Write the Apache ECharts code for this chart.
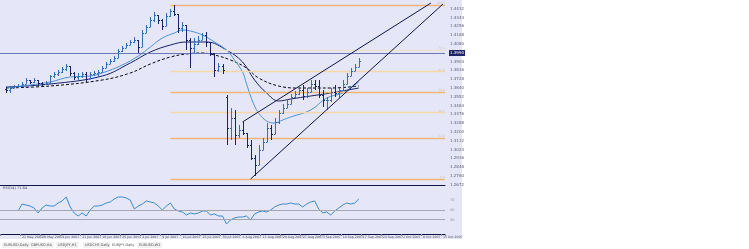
<!DOCTYPE html>
<html><head><meta charset="utf-8">
<script src="https://cdn.jsdelivr.net/npm/echarts@6/dist/echarts.min.js"></script>
<style>html,body{margin:0;padding:0;background:#fff;overflow:hidden}#c{width:749px;height:249px}</style>
</head><body><div id="c"></div>
<script>
// ---------- data ----------
const slotCount = 111;          // bar slots on the time axis (incl. empty future space)
const firstBar = 1;             // slot index of the first bar
const opens = [1.363,1.362,1.364,1.366,1.366,1.368,1.372,1.370,1.372,1.369,
 1.368,1.369,1.376,1.378,1.380,1.383,1.386,1.379,1.375,1.376,
 1.378,1.373,1.378,1.379,1.380,1.384,1.388,1.391,1.394,1.401,
 1.404,1.407,1.410,1.412,1.405,1.419,1.425,1.432,1.437,1.432,
 1.426,1.436,1.441,1.438,1.424,1.427,1.412,1.404,1.408,1.412,
 1.417,1.410,1.399,1.382,1.386,1.355,1.324,1.334,1.317,1.322,
 1.319,1.307,1.294,1.287,1.302,1.310,1.324,1.318,1.330,1.339,
 1.344,1.348,1.355,1.358,1.362,1.356,1.360,1.368,1.366,1.357,
 1.352,1.352,1.360,1.359,1.362,1.368,1.376,1.381,1.385];
const highs = [1.365,1.366,1.367,1.368,1.370,1.374,1.372,1.374,1.372,1.370,
 1.371,1.377,1.380,1.382,1.385,1.388,1.386,1.380,1.379,1.380,
 1.380,1.380,1.381,1.382,1.386,1.390,1.393,1.396,1.403,1.406,
 1.409,1.412,1.415,1.412,1.422,1.427,1.435,1.440,1.437,1.433,
 1.439,1.443,1.447,1.438,1.430,1.427,1.414,1.414,1.416,1.419,
 1.420,1.410,1.399,1.389,1.388,1.357,1.344,1.342,1.327,1.330,
 1.319,1.312,1.297,1.307,1.314,1.329,1.327,1.334,1.342,1.348,
 1.352,1.358,1.361,1.365,1.367,1.364,1.372,1.372,1.372,1.362,
 1.355,1.364,1.367,1.364,1.372,1.379,1.384,1.388,1.394];
const lows = [1.359,1.359,1.364,1.364,1.366,1.368,1.368,1.369,1.366,1.365,
 1.367,1.369,1.374,1.376,1.379,1.381,1.376,1.372,1.372,1.374,
 1.370,1.373,1.376,1.375,1.380,1.384,1.388,1.390,1.394,1.400,
 1.404,1.407,1.409,1.399,1.405,1.419,1.425,1.430,1.428,1.422,
 1.426,1.435,1.436,1.419,1.420,1.402,1.384,1.399,1.407,1.412,
 1.405,1.396,1.375,1.380,1.378,1.307,1.312,1.307,1.314,1.317,
 1.304,1.292,1.276,1.287,1.302,1.310,1.312,1.318,1.328,1.338,
 1.344,1.348,1.354,1.357,1.352,1.354,1.360,1.362,1.354,1.345,
 1.342,1.350,1.355,1.354,1.362,1.368,1.376,1.381,1.385];
const closes = [1.362,1.364,1.366,1.366,1.368,1.372,1.370,1.372,1.369,1.368,
 1.369,1.376,1.378,1.380,1.383,1.386,1.379,1.375,1.376,1.378,
 1.373,1.378,1.379,1.380,1.384,1.388,1.391,1.394,1.401,1.404,
 1.407,1.410,1.412,1.405,1.419,1.425,1.432,1.437,1.432,1.426,
 1.436,1.441,1.438,1.424,1.427,1.412,1.404,1.408,1.412,1.417,
 1.410,1.399,1.382,1.386,1.382,1.324,1.334,1.317,1.322,1.319,
 1.307,1.294,1.287,1.302,1.310,1.324,1.318,1.330,1.339,1.344,
 1.348,1.355,1.358,1.362,1.356,1.360,1.368,1.366,1.357,1.352,
 1.352,1.360,1.359,1.362,1.368,1.376,1.381,1.385,1.391];

// moving averages: [slot, value]
const fastMA = [[1,1.364],[7,1.367],[12,1.370],[17,1.375],[22,1.376],[25,1.379],[30,1.387],[34,1.396],
 [37,1.405],[40,1.414],[43,1.419],[45,1.422],[47,1.421],[50,1.417],[53,1.410],[56,1.402],[58,1.392],
 [60,1.380],[61,1.368],[62,1.356],[63,1.346],[64,1.339],[66,1.331],[68,1.329],[70,1.332],[72,1.335],
 [77,1.342],[81,1.354],[85,1.359],[87,1.364],[89,1.370]];
const midMA = [[1,1.365],[12,1.368],[25,1.376],[32,1.389],[37,1.400],[42,1.407],[46,1.410],[51,1.410],
 [56,1.402],[60,1.390],[63,1.372],[66,1.359],[69,1.351],[72,1.353],[77,1.356],[82,1.359],[89,1.364]];
const slowMA = [[1,1.364],[12,1.366],[25,1.372],[32,1.379],[37,1.388],[42,1.395],[46,1.398],[50,1.399],
 [53,1.397],[57,1.392],[61,1.384],[64,1.374],[69,1.366],[74,1.364],[82,1.364],[89,1.366]];

// trend channel
const upperTrend = [[60,1.330],[107,1.449]];
const lowerTrend = [[62,1.273],[110,1.448]];

// horizontal levels
const fibStart = 42;
const fibLevels = [1.447, 1.402, 1.3805, 1.360, 1.3395, 1.3141, 1.273];
const fibNames  = ['100.0','76.4','61.8','50.0','38.2','23.6','0.0'];
const fibStrong = [true, false, false, true, false, true, true];
const pivotLevel = 1.399;

// RSI(14)
const rsiStart = 4;
const rsi = [47.9,62.5,60.4,58.3,54.2,43.8,54.2,60.4,58.3,58.3,
 64.6,68.8,77.1,56.3,43.8,37.5,43.8,37.5,50.0,58.3,
 58.3,60.4,64.6,66.7,72.9,77.1,77.1,75.0,70.8,52.1,
 58.3,62.5,68.8,66.7,64.6,58.3,50.0,58.3,64.6,52.1,
 47.9,45.8,39.6,43.8,41.7,43.8,47.9,47.9,39.6,41.7,
 37.5,37.5,20.8,29.2,33.3,35.4,35.4,37.5,29.2,41.7,
 45.8,47.9,45.8,50.0,56.3,60.4,62.5,62.5,64.6,62.5,
 62.5,56.3,62.5,66.7,68.8,52.1,43.8,45.8,39.6,47.9,
 54.2,60.4,64.6,62.5,64.6,72.9];
const rsiLevels = [50, 30];
const rsiLabels = [70, 50, 30];

const tabs = ['EURUSD,Daily','GBPUSD,H4','USDJPY,H1','USDCHF,Daily','EURJPY,Daily','EURUSD,W1'];

// time axis categories (trading days)
const startDate = new Date(Date.UTC(2007, 4, 14));
const MONTHS = ['Jan','Feb','Mar','Apr','May','Jun','Jul','Aug','Sep','Oct','Nov','Dec'];
const categories = [];
{
  const d = new Date(startDate);
  while (categories.length < slotCount) {
    const wd = d.getUTCDay();
    if (wd !== 0 && wd !== 6) categories.push(d.getUTCDate() + ' ' + MONTHS[d.getUTCMonth()] + ' ' + d.getUTCFullYear());
    d.setUTCDate(d.getUTCDate() + 1);
  }
}

// ---------- chart ----------
const UP = '#2f6fc4', DN = '#16246e';
const ohlc = closes.map((c, k) => [firstBar + k, opens[k], highs[k], lows[k], c]);
const rsiData = rsi.map((v, k) => [rsiStart + k, v]);

const GL = 0, GW = 445;
const chart = echarts.init(document.getElementById('c'), null, {renderer: 'canvas'});

const fibMarks = fibLevels.map((v, k) => [
  {coord: [fibStart, v], lineStyle: {color: fibStrong[k] ? '#f2b774' : (k === 1 ? '#eedfcf' : '#f6d6ab'), width: 1.3, type: 'solid'},
   label: {show: true, position: 'insideEndTop', formatter: fibNames[k], fontSize: 3, color: '#cfc3b4', distance: 0}},
  {coord: [slotCount - 0.5, v]}
]);

chart.setOption({
  animation: false,
  backgroundColor: '#ffffff',
  textStyle: {fontFamily: 'DejaVu Sans'},
  graphic: [
    {type: 'rect', z: -100, shape: {x: 0, y: 0, width: 462, height: 239}, style: {fill: '#e5e7f8'}, silent: true},
    {type: 'text', z: 100, left: 3, top: 186, style: {text: 'RSI(14) 71.84', fontSize: 3.5, fill: '#404050', fontFamily: 'DejaVu Sans'}},
    ...tabs.map((t, k) => ({type: 'text', z: 100, left: 2 + k * 27, top: 242,
      style: {text: t, fontSize: 3.5, fill: '#505050', fontFamily: 'DejaVu Sans',
        backgroundColor: k === 4 ? '#ffffff' : '#f2f2f2', padding: [1, 2]}}))
  ],
  grid: [
    {left: GL, top: 0, width: GW, height: 184.8},
    {left: GL, top: 186, width: GW, height: 48}
  ],
  xAxis: [
    {type: 'value', gridIndex: 0, min: -0.5, max: slotCount - 0.5,
     axisLine: {show: true, onZero: false, lineStyle: {color: '#10124a', width: 1}},
     axisTick: {show: false}, axisLabel: {show: false}, splitLine: {show: false}},
    {type: 'category', gridIndex: 1, data: categories, boundaryGap: true,
     axisLine: {show: true, lineStyle: {color: '#10124a', width: 1}},
     axisTick: {show: true, interval: 4, length: 2, lineStyle: {color: '#8a8c9a'}},
     axisLabel: {interval: 4, fontSize: 3.2, color: '#505060', margin: 2, align: 'left'},
     splitLine: {show: false}}
  ],
  yAxis: [
    {type: 'value', gridIndex: 0, position: 'right', min: 1.2672, max: 1.452, interval: 0.0088,
     axisLine: {show: false}, axisTick: {show: false}, splitLine: {show: false},
     axisLabel: {fontSize: 4, color: '#5a5e74', margin: 5, showMaxLabel: false, showMinLabel: true,
       formatter: v => v.toFixed(4)}},
    {type: 'value', gridIndex: 1, position: 'right', min: 0, max: 100, interval: 10,
     axisLine: {show: false}, axisTick: {show: false}, splitLine: {show: false},
     axisLabel: {fontSize: 3.5, color: '#8a8c9a', margin: 5,
       formatter: v => rsiLabels.indexOf(v) >= 0 ? String(v) : ''}}
  ],
  series: [
    {type: 'line', xAxisIndex: 0, yAxisIndex: 0, data: [], silent: true,
     markLine: {silent: true, symbol: 'none', data: fibMarks}},
    {type: 'line', xAxisIndex: 0, yAxisIndex: 0, data: [], silent: true,
     markLine: {silent: true, symbol: 'none', data: [[
       {coord: [-0.5, pivotLevel], lineStyle: {color: '#6a76b4', width: 1.2, type: 'solid'},
        label: {show: true, position: 'end', formatter: pivotLevel.toFixed(4), fontSize: 4, color: '#fff',
          backgroundColor: '#1c2466', padding: [1, 1], distance: 4}},
       {coord: [slotCount - 0.5, pivotLevel]}]]}},
    {type: 'line', name: 'slow', xAxisIndex: 0, yAxisIndex: 0, data: slowMA, smooth: 0.4, symbol: 'none',
     lineStyle: {color: '#05060f', width: 1, type: [3, 2]}},
    {type: 'line', name: 'mid', xAxisIndex: 0, yAxisIndex: 0, data: midMA, smooth: 0.4, symbol: 'none',
     lineStyle: {color: '#17206a', width: 1}},
    {type: 'line', name: 'fast', xAxisIndex: 0, yAxisIndex: 0, data: fastMA, smooth: 0.4, symbol: 'none',
     lineStyle: {color: '#4a92d6', width: 1}},
    {type: 'custom', name: 'bars', xAxisIndex: 0, yAxisIndex: 0, data: ohlc, z: 5,
     encode: {x: 0, y: [1, 2, 3, 4]},
     renderItem: (params, api) => {
       const i = api.value(0), o = api.value(1), h = api.value(2), l = api.value(3), c = api.value(4);
       const pH = api.coord([i, h]), pL = api.coord([i, l]), pO = api.coord([i, o]), pC = api.coord([i, c]);
       const x = Math.round(pH[0]) + 0.5;
       const col = c >= o ? UP : DN;
       const st = {stroke: col, lineWidth: 1};
       return {type: 'group', children: [
         {type: 'line', shape: {x1: x, y1: pH[1], x2: x, y2: pL[1]}, style: st},
         {type: 'line', shape: {x1: x - 1.5, y1: Math.round(pO[1]) + 0.5, x2: x, y2: Math.round(pO[1]) + 0.5}, style: st},
         {type: 'line', shape: {x1: x, y1: Math.round(pC[1]) + 0.5, x2: x + 1.5, y2: Math.round(pC[1]) + 0.5}, style: st}
       ]};
     }},
    {type: 'line', name: 'upper', xAxisIndex: 0, yAxisIndex: 0, data: upperTrend, symbol: 'none',
     lineStyle: {color: '#0c1450', width: 1}, z: 6},
    {type: 'line', name: 'lower', xAxisIndex: 0, yAxisIndex: 0, data: lowerTrend, symbol: 'none',
     lineStyle: {color: '#0c1450', width: 1}, z: 6},
    {type: 'line', name: 'rsi', xAxisIndex: 1, yAxisIndex: 1, data: rsiData, symbol: 'none',
     lineStyle: {color: '#3b8bd0', width: 1},
     markLine: {silent: true, symbol: 'none', label: {show: false},
       lineStyle: {color: '#a4a6b4', width: 1, type: 'solid'},
       data: rsiLevels.map(v => ({yAxis: v}))}}
  ]
});
</script>
</body></html>
